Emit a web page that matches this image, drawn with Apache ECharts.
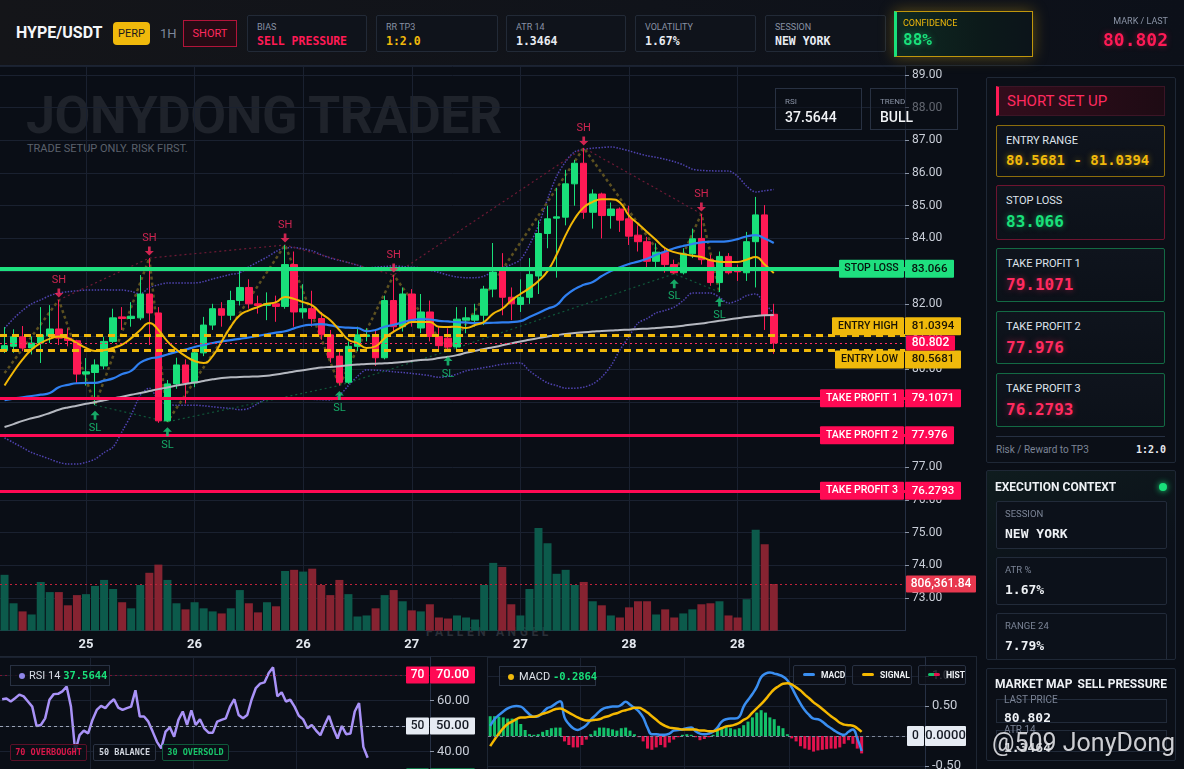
<!DOCTYPE html>
<html>
<head>
<meta charset="utf-8">
<title>HYPE/USDT Short Setup</title>
<script src="https://cdn.jsdelivr.net/npm/echarts@6/dist/echarts.min.js"></script>
<style>
*{margin:0;padding:0;box-sizing:border-box}
html,body{width:1184px;height:769px;overflow:hidden;background:#0a0e16;font-family:Roboto,"Noto Sans",sans-serif;color:#e8ecf2}
.a{position:absolute}
.u{z-index:1}
.o{z-index:3}
#chart{position:absolute;left:0;top:0;width:1184px;height:830px;z-index:2}
.mono{font-family:"DejaVu Sans Mono",monospace;font-weight:bold}
.hb{position:absolute;top:15px;height:37px;background:#0f131b;border:1px solid #222a37;border-radius:2px;z-index:3}
.hb .l{position:absolute;left:9px;top:5px;font-size:9px;line-height:12px;color:#8891a3}
.hb .v{position:absolute;left:9px;top:18px;font-size:11.5px;line-height:14px;white-space:nowrap}
.card{position:absolute;left:996px;width:169px;background:linear-gradient(180deg,#0f141d,#0c1119);border:1px solid #222b3a;border-radius:2px;z-index:3}
.card .l{position:absolute;left:9px;top:8px;font-size:11px;line-height:14px;color:#dfe4ec}
.card .v{position:absolute;left:9px;top:26px;font-size:16px;line-height:20px;white-space:nowrap}
.sub{position:absolute;left:9px;width:171px;height:48px;background:#0c111a;border:1px solid #222b3a;border-radius:2px}
.sub .l{position:absolute;left:8px;top:6px;font-size:9.5px;line-height:12px;color:#7b8496}
.sub .v{position:absolute;left:8px;top:24px;font-size:13px;line-height:16px;color:#eef1f5}
.chip{position:absolute;height:17px;border:1px solid;border-radius:2px;font-family:"DejaVu Sans Mono",monospace;font-weight:bold;font-size:8.5px;line-height:15px;text-align:center;background:rgba(10,14,22,.85);z-index:3;white-space:nowrap}
.lg{position:absolute;top:665px;height:20px;border:1px solid #283142;background:rgba(12,16,24,.8);border-radius:2px;font-size:8.5px;font-weight:bold;line-height:18px;color:#eef1f5;z-index:3;white-space:nowrap}
.lg i{display:inline-block;width:12px;height:3px;border-radius:2px;vertical-align:middle;margin:0 6px 2px 9px}
</style>
</head>
<body>
<!-- under-chart decorations -->
<div class="a u" style="left:26px;top:86px;font-size:52px;line-height:60px;font-weight:bold;color:#1f232b;letter-spacing:-0.5px;white-space:nowrap">JONYDONG TRADER</div>
<div class="a u" style="left:27px;top:142px;font-size:11px;line-height:14px;color:#5b616c">TRADE SETUP ONLY. RISK FIRST.</div>
<div class="a u" style="left:426px;top:625px;font-size:12px;line-height:14px;font-weight:bold;letter-spacing:3.6px;color:#2a2f38">FALLEN ANGEL</div>
<div class="a u" style="left:0;top:656px;width:488px;height:120px;border-top:1px solid #1e2633;border-right:1px solid #1e2633"></div>
<div class="a u" style="left:487px;top:656px;width:490px;height:120px;border-top:1px solid #1e2633;border-right:1px solid #1e2633"></div>

<div id="chart"></div>

<!-- header -->
<div class="a o" style="left:0;top:0;width:1184px;height:66px;background:linear-gradient(90deg,#141519,#10131a 55%,#0c1019);border-bottom:1px solid #1c2433"></div>
<div class="a o" style="left:16px;top:23px;font-size:16px;line-height:20px;font-weight:bold;color:#f4f6f9">HYPE/USDT</div>
<div class="a o" style="left:113px;top:22px;width:37px;height:23px;background:#f0b90b;border-radius:4px;font-size:11px;line-height:23px;text-align:center;color:#1b1b1b">PERP</div>
<div class="a o" style="left:160px;top:24px;font-size:13px;line-height:20px;color:#7d879b">1H</div>
<div class="a o" style="left:183px;top:20px;width:54px;height:27px;border:1px solid #b3143a;background:#250b14;font-size:11px;line-height:25px;text-align:center;color:#ff2a5f">SHORT</div>
<div class="hb" style="left:247px;width:120px"><div class="l">BIAS</div><div class="v mono" style="color:#ff1a55">SELL PRESSURE</div></div>
<div class="hb" style="left:376px;width:122px"><div class="l">RR TP3</div><div class="v mono" style="color:#f0b90b">1:2.0</div></div>
<div class="hb" style="left:506px;width:120px"><div class="l">ATR 14</div><div class="v mono" style="color:#e8ecf2">1.3464</div></div>
<div class="hb" style="left:635px;width:121px"><div class="l">VOLATILITY</div><div class="v mono" style="color:#e8ecf2">1.67%</div></div>
<div class="hb" style="left:765px;width:121px"><div class="l">SESSION</div><div class="v mono" style="color:#e8ecf2">NEW YORK</div></div>
<div class="a o" style="left:894px;top:11px;width:139px;height:46px;border:1px solid #c0960c;box-shadow:0 0 14px rgba(240,185,11,.35);background:linear-gradient(90deg,#0f2a22,#0c1a1a 60%,#0c141a);border-left:3px solid #19e07a"></div>
<div class="a o" style="left:903px;top:17px;font-size:9px;line-height:12px;color:#f0b90b">CONFIDENCE</div>
<div class="a o mono" style="left:903px;top:30px;font-size:16px;line-height:20px;color:#19e07a;text-shadow:0 0 6px rgba(25,224,122,.5)">88%</div>
<div class="a o" style="left:1000px;width:168px;top:15px;font-size:9px;line-height:12px;color:#8b94a6;text-align:right">MARK / LAST</div>
<div class="a o mono" style="left:1000px;width:168px;top:29px;font-size:18px;line-height:22px;color:#ff1a55;text-align:right;text-shadow:0 0 6px rgba(255,26,85,.45)">80.802</div>

<!-- main chart overlay boxes -->
<div class="a o" style="left:775px;top:88px;width:87px;height:42px;border:1px solid #283142;background:rgba(11,15,23,.55)">
  <div class="a" style="left:9px;top:8px;font-size:8px;line-height:10px;color:#8a93a5">RSI</div>
  <div class="a" style="left:9px;top:19px;font-size:14px;line-height:18px;color:#f1f3f6;font-weight:500">37.5644</div>
</div>
<div class="a o" style="left:870px;top:88px;width:88px;height:42px;border:1px solid #283142;background:rgba(11,15,23,.55)">
  <div class="a" style="left:9px;top:8px;font-size:8px;line-height:10px;color:#8a93a5">TREND</div>
  <div class="a" style="left:9px;top:19px;font-size:14px;line-height:18px;color:#f1f3f6;font-weight:500">BULL</div>
</div>

<!-- right panel: setup -->
<div class="a o" style="left:986px;top:77px;width:190px;height:386px;border:1px solid #1f2836;background:#0b0f17;border-radius:2px"></div>
<div class="a o" style="left:996px;top:86px;width:169px;height:30px;background:linear-gradient(90deg,#330d1c,#1e0b14);border:1px solid #3c1526;border-left:3px solid #ff1a55"></div>
<div class="a o" style="left:1007px;top:86px;font-size:15px;line-height:30px;color:#ff2a5f">SHORT SET UP</div>
<div class="card" style="top:125px;height:52px;border-color:#8c6d0c"><div class="l">ENTRY RANGE</div><div class="v mono" style="top:24px;font-size:14px;color:#f0b90b;text-shadow:0 0 6px rgba(240,185,11,.55)">80.5681 - 81.0394</div></div>
<div class="card" style="top:185px;height:55px;border-color:#6e1430"><div class="l">STOP LOSS</div><div class="v mono" style="color:#19e07a;text-shadow:0 0 6px rgba(25,224,122,.5)">83.066</div></div>
<div class="card" style="top:248px;height:54px;border-color:#136a44"><div class="l">TAKE PROFIT 1</div><div class="v mono" style="color:#ff2a5f;text-shadow:0 0 6px rgba(255,42,95,.5)">79.1071</div></div>
<div class="card" style="top:311px;height:53px;border-color:#136a44"><div class="l">TAKE PROFIT 2</div><div class="v mono" style="color:#ff2a5f;text-shadow:0 0 6px rgba(255,42,95,.5)">77.976</div></div>
<div class="card" style="top:373px;height:54px;border-color:#136a44"><div class="l">TAKE PROFIT 3</div><div class="v mono" style="color:#ff2a5f;text-shadow:0 0 6px rgba(255,42,95,.5)">76.2793</div></div>
<div class="a o" style="left:996px;top:436px;width:169px;height:1px;background:#263042"></div>
<div class="a o" style="left:996px;top:444px;font-size:10px;line-height:12px;color:#7b8496">Risk / Reward to TP3</div>
<div class="a o mono" style="left:1100px;width:66px;top:444px;font-size:10px;line-height:12px;color:#e6e9ee;text-align:right">1:2.0</div>

<!-- execution context -->
<div class="a o" style="left:986px;top:470px;width:190px;height:190px;border:1px solid #1f2836;background:linear-gradient(160deg,#0f1c1e 0%,#0b1019 55%);overflow:hidden;border-radius:2px">
  <div class="a" style="left:8px;top:9px;font-size:12px;line-height:14px;font-weight:bold;color:#eef1f5">EXECUTION CONTEXT</div>
  <div class="a" style="left:172px;top:12px;width:8px;height:8px;border-radius:50%;background:#19e07a;box-shadow:0 0 6px #19e07a"></div>
  <div class="sub" style="top:30px"><div class="l">SESSION</div><div class="v mono">NEW YORK</div></div>
  <div class="sub" style="top:86px"><div class="l">ATR %</div><div class="v mono">1.67%</div></div>
  <div class="sub" style="top:142px"><div class="l">RANGE 24</div><div class="v mono">7.79%</div></div>
</div>

<!-- market map -->
<div class="a o" style="left:986px;top:668px;width:190px;height:93px;border:1px solid #1f2836;background:#0b0f17;overflow:hidden;border-radius:2px">
  <div class="a" style="left:8px;top:8px;font-size:12px;line-height:14px;font-weight:bold;color:#eef1f5">MARKET MAP</div>
  <div class="a" style="left:60px;width:120px;top:8px;font-size:12px;line-height:14px;font-weight:bold;color:#eef1f5;text-align:right">SELL PRESSURE</div>
  <div class="a" style="left:9px;top:30px;width:171px;height:24px;border:1px solid #222b3a;background:#0c111a"></div>
  <div class="a" style="left:17px;top:25px;font-size:10px;line-height:12px;color:#7b8496">LAST PRICE</div>
  <div class="a mono" style="left:17px;top:41px;font-size:13px;line-height:15px;color:#eef1f5">80.802</div>
  <div class="a" style="left:9px;top:61px;width:171px;height:22px;border:1px solid #222b3a;background:#0c111a"></div>
  <div class="a" style="left:17px;top:55px;font-size:10px;line-height:12px;color:#7b8496">ATR 14</div>
  <div class="a mono" style="left:17px;top:71px;font-size:13px;line-height:15px;color:#eef1f5">1.3464</div>
</div>

<!-- RSI panel chips -->
<div class="a o" style="left:10px;top:665px;width:100px;height:21px;border:1px solid #283142;background:rgba(12,16,24,.75);font-size:11px;line-height:19px;white-space:nowrap">
  <span style="display:inline-block;width:6px;height:6px;border-radius:50%;background:#8f86e8;margin:0 4px 1px 8px;vertical-align:middle"></span><span style="color:#d8dde6">RSI 14</span> <span class="mono" style="color:#19e07a;font-size:10.5px">37.5644</span>
</div>
<div class="chip" style="left:10px;top:744px;width:77px;border-color:#5a1028;color:#d9184a">70 OVERBOUGHT</div>
<div class="chip" style="left:93px;top:744px;width:63px;border-color:#2a3242;color:#d0d5de">50 BALANCE</div>
<div class="chip" style="left:162px;top:744px;width:67px;border-color:#0f5a3a;color:#19c46a">30 OVERSOLD</div>

<!-- MACD panel chips -->
<div class="a o" style="left:499px;top:666px;width:97px;height:20px;border:1px solid #283142;background:rgba(12,16,24,.75);font-size:11px;line-height:18px;white-space:nowrap">
  <span style="display:inline-block;width:6px;height:6px;border-radius:50%;background:#f0b90b;margin:0 5px 1px 8px;vertical-align:middle"></span><span style="color:#dfe3ea">MACD</span> <span class="mono" style="color:#19e07a;font-size:10.5px">-0.2864</span>
</div>
<div class="lg" style="left:793px;width:53px"><i style="background:#3a8ef0"></i>MACD</div>
<div class="lg" style="left:852px;width:60px"><i style="background:#f5b800"></i>SIGNAL</div>
<div class="lg" style="left:918px;width:48px"><i style="background:linear-gradient(90deg,#13c26a 50%,#e3124e 50%)"></i>HIST</div>

<!-- platform watermark -->
<div class="a o" style="left:992px;top:728px;font-size:25px;line-height:30px;color:rgba(238,240,244,.85);text-shadow:0 0 3px rgba(0,0,0,.6);white-space:nowrap">@509 JonyDong</div>

<script>
// ---------------- DATA ----------------
const categories = Array.from({length: 100}, (_, i) => 'h' + i); // 100 hourly slots, 86 with data
const dayTickIndex = [9, 21, 33, 45, 57, 69, 81];
const dayTickLabel = ['25', '26', '26', '27', '27', '28', '28'];
const panelDayIndex = [21, 45, 69];

// [open, close, low, high]
const ohlc = [
[80.57,80.72,80.50,81.29],[80.70,80.99,80.50,81.22],[80.99,80.65,80.55,81.32],[80.65,80.80,80.45,81.00],[80.80,81.05,80.19,81.90],
[81.02,81.23,80.80,81.96],[81.23,80.95,80.74,82.12],[80.95,80.88,80.70,81.25],[80.87,79.85,79.58,80.90],[79.85,79.92,79.50,80.34],
[79.90,80.13,78.90,80.30],[80.10,80.85,80.00,80.99],[80.85,81.57,80.80,81.85],[81.60,81.55,81.20,81.90],[81.55,81.62,81.30,82.05],
[81.57,82.30,81.50,82.88],[82.30,81.72,80.74,83.40],[81.72,78.42,78.36,81.90],[78.42,79.55,78.39,79.67],[79.55,80.13,79.40,80.35],
[80.13,79.58,78.95,80.30],[79.58,80.50,79.45,80.60],[80.50,81.35,80.40,81.60],[81.35,81.85,81.20,82.00],[81.85,81.65,81.30,82.05],
[81.65,82.10,81.50,82.40],[82.10,82.50,81.95,83.10],[82.50,82.00,81.85,82.75],[82.00,81.95,81.70,82.25],[81.95,82.00,81.50,82.35],
[82.00,81.92,81.45,82.25],[81.92,83.20,81.85,83.80],[83.20,81.75,81.30,83.60],[81.75,81.85,81.55,82.60],[81.85,81.55,81.30,82.40],
[81.55,81.05,80.90,81.75],[81.05,80.35,80.20,81.20],[80.40,79.60,79.50,80.60],[79.60,80.70,79.55,80.85],[80.70,81.05,80.55,81.30],
[81.00,81.05,80.85,81.25],[81.05,80.35,80.10,81.20],[80.35,82.10,80.30,82.25],[82.10,81.30,81.15,82.88],[81.30,82.30,81.15,82.50],
[82.30,81.50,81.30,82.45],[81.26,81.75,81.10,82.30],[81.75,81.00,80.85,82.10],[81.00,80.72,80.60,81.30],[80.95,80.68,80.56,81.25],
[80.68,81.53,80.60,81.90],[81.50,81.57,81.10,81.90],[81.50,81.65,81.30,82.00],[81.65,82.45,81.35,82.55],[82.45,82.97,82.20,83.86],
[83.06,82.20,81.65,83.55],[82.20,82.00,81.50,82.50],[81.98,82.20,81.75,82.75],[82.20,82.90,82.00,83.40],[82.85,84.15,82.30,84.55],
[84.15,84.60,83.70,85.00],[84.62,84.66,82.80,85.55],[84.65,85.67,84.40,86.10],[85.67,86.30,85.00,86.40],[86.30,84.80,84.60,86.77],
[84.80,85.36,84.30,85.50],[85.36,84.70,84.00,85.40],[84.70,84.90,84.30,85.10],[84.90,84.56,84.20,84.95],[84.60,84.07,83.80,85.00],
[84.10,83.90,83.60,84.40],[83.90,83.30,83.10,84.05],[83.30,83.58,83.10,83.85],[83.58,83.20,82.95,83.70],[83.20,82.95,82.92,83.35],
[82.95,83.53,82.90,83.70],[83.53,83.99,83.40,84.30],[84.00,83.35,83.20,84.75],[83.35,82.65,82.55,83.50],[82.65,83.45,82.36,83.60],
[83.45,82.95,82.90,83.55],[83.00,82.98,82.70,83.20],[82.95,83.90,82.70,84.20],[83.90,84.72,82.50,85.27],[84.72,81.66,81.20,85.02],
[81.68,80.80,80.47,82.00]
];

const volume = [
964000,473000,333000,280000,841000,666000,666000,438000,614000,631000,
771000,876000,719000,491000,386000,789000,999000,1140000,876000,473000,
368000,491000,386000,333000,298000,386000,701000,473000,316000,491000,
421000,1030000,1050000,1020000,1070000,789000,614000,876000,631000,245000,
263000,386000,614000,701000,508000,351000,333000,456000,228000,210000,
263000,228000,193000,789000,1170000,1100000,456000,263000,719000,1770000,
1510000,982000,1050000,789000,841000,508000,438000,263000,228000,403000,
508000,508000,280000,368000,228000,298000,368000,456000,473000,508000,
263000,228000,543000,1740000,1490000,806000];
const volumeAvg = 806361.84;

const maFast = [
79.50,79.92,80.30,80.60,80.80,80.93,81.00,80.95,80.80,80.65,
80.56,80.58,80.65,80.75,80.95,81.20,81.41,81.20,80.85,80.60,
80.40,80.25,80.19,80.40,80.85,81.30,81.65,81.80,81.90,82.00,
82.05,82.21,82.15,82.05,81.95,81.70,81.50,81.20,80.90,80.80,
80.65,80.70,80.95,81.15,81.30,81.44,81.44,81.44,81.30,81.29,
81.30,81.26,81.35,81.45,81.70,81.85,82.10,82.30,82.48,82.70,
83.00,83.50,84.10,84.60,84.95,85.12,85.20,85.20,85.10,84.70,
84.45,84.20,83.95,83.70,83.58,83.52,83.47,83.43,83.33,83.29,
83.28,83.28,83.35,83.43,83.20,82.94];
const maMid = [
79.05,79.10,79.14,79.18,79.22,79.27,79.45,79.52,79.57,79.58,
79.58,79.65,79.72,79.85,79.95,80.20,80.32,80.37,80.45,80.53,
80.60,80.68,80.74,80.80,80.85,80.89,80.93,80.97,81.02,81.07,
81.12,81.16,81.25,81.33,81.36,81.38,81.34,81.29,81.27,81.26,
81.16,81.20,81.30,81.36,81.43,81.50,81.53,81.52,81.48,81.46,
81.44,81.43,81.41,81.41,81.42,81.43,81.44,81.47,81.60,81.72,
81.85,81.96,82.25,82.45,82.58,82.67,82.85,83.00,83.12,83.22,
83.29,83.38,83.50,83.60,83.70,83.77,83.83,83.88,83.90,83.90,
83.92,83.98,84.06,84.10,84.00,83.86];
const maSlow = [
78.23,78.32,78.42,78.50,78.57,78.66,78.76,78.83,78.88,78.94,
78.99,79.05,79.11,79.16,79.22,79.27,79.33,79.39,79.44,79.50,
79.55,79.59,79.64,79.69,79.73,79.75,79.76,79.77,79.78,79.80,
79.84,79.88,79.93,79.97,80.01,80.05,80.07,80.09,80.12,80.14,
80.16,80.17,80.18,80.20,80.22,80.25,80.28,80.30,80.34,80.38,
80.43,80.50,80.56,80.62,80.67,80.73,80.79,80.85,80.90,80.95,
81.00,81.04,81.08,81.11,81.13,81.15,81.17,81.18,81.20,81.21,
81.23,81.24,81.26,81.28,81.30,81.33,81.37,81.40,81.44,81.48,
81.52,81.56,81.60,81.63,81.65,81.66];
const bandUpper = [
81.25,81.55,81.80,82.00,82.12,82.25,82.33,82.37,82.40,82.42,
82.42,82.43,82.42,82.42,82.38,82.30,82.50,82.58,82.64,82.64,
82.64,82.64,82.68,82.76,82.83,82.90,82.95,83.13,83.28,83.43,
83.60,83.71,83.72,83.68,83.62,83.50,83.40,83.33,83.26,83.18,
83.10,83.12,83.14,83.16,83.14,83.12,83.10,83.03,82.96,82.88,
82.82,82.80,82.80,82.85,83.00,83.10,83.20,83.35,83.80,84.40,
85.20,85.90,86.35,86.65,86.72,86.76,86.78,86.80,86.75,86.68,
86.60,86.53,86.48,86.42,86.35,86.25,86.12,86.08,86.07,86.06,
86.06,85.90,85.60,85.42,85.46,85.50];
const bandLower = [
77.90,77.75,77.60,77.45,77.35,77.25,77.15,77.10,77.10,77.15,
77.25,77.45,77.62,78.10,78.60,79.20,79.42,79.06,78.92,78.90,
78.90,78.90,78.88,78.85,78.82,78.80,78.76,78.80,78.95,79.10,
79.12,79.12,79.12,79.10,79.08,79.07,79.06,79.20,79.50,79.78,
79.98,79.97,79.95,79.92,79.90,79.87,79.84,79.80,79.75,79.78,
79.85,79.95,80.00,80.05,80.10,80.15,80.18,80.19,79.95,79.75,
79.58,79.50,79.42,79.42,79.45,79.55,79.76,80.10,80.59,81.00,
81.41,81.55,81.72,81.80,81.90,82.10,82.33,82.33,82.33,82.20,
82.02,82.10,82.25,82.30,82.00,81.72];

const swingHighIdx = [6, 16, 31, 43, 64, 77];
const swingHighVal = [82.12, 83.40, 83.80, 82.88, 86.77, 84.75];
const swingLowIdx = [10, 18, 37, 49, 74, 79];
const swingLowVal = [78.90, 78.39, 79.50, 80.56, 82.92, 82.36];
const zigzagIdx = [0, 6, 10, 16, 18, 31, 37, 43, 49, 64, 74, 77, 79];
const zigzagVal = [79.88, 82.12, 78.90, 83.40, 78.39, 83.80, 79.50, 82.88, 80.56, 86.77, 82.92, 84.75, 82.36];

const levelNames = ['STOP LOSS', 'ENTRY HIGH', 'ENTRY LOW', 'TAKE PROFIT 1', 'TAKE PROFIT 2', 'TAKE PROFIT 3'];
const levelValues = [83.066, 81.0394, 80.5681, 79.1071, 77.976, 76.2793];
const lastPrice = 80.802;

const rsi = [
60.5,60.8,59.6,60.9,62.3,61.6,59.6,57.6,50.0,50.4,
53.0,60.3,62.5,62.6,63.6,65.5,57.6,39.9,46.4,48.2,
47.1,52.4,56.3,57.9,57.0,59.0,60.5,57.2,56.3,57.0,
57.6,64.0,53.7,53.7,51.7,47.8,43.8,41.2,47.8,49.5,
45.8,52.4,55.7,50.4,56.1,50.4,52.6,49.1,47.4,47.4,
51.7,52.4,53.0,57.6,60.5,54.3,53.0,54.3,60.3,64.9,
66.6,67.1,70.8,73.0,61.6,63.2,59.6,60.3,57.6,54.0,
52.6,49.1,50.4,48.2,46.4,50.4,54.0,49.1,45.1,50.0,
46.8,47.1,55.7,59.0,41.8,37.56];

const macd = [
0.17,0.28,0.35,0.41,0.46,0.49,0.50,0.49,0.43,0.36,
0.32,0.33,0.39,0.46,0.49,0.54,0.58,0.31,0.20,0.13,
0.10,0.13,0.18,0.27,0.34,0.41,0.46,0.48,0.49,0.49,
0.52,0.57,0.52,0.47,0.41,0.31,0.14,0.03,0.03,0.02,
0.02,0.04,0.09,0.10,0.11,0.13,0.14,0.08,0.04,0.03,
0.04,0.07,0.14,0.24,0.28,0.29,0.29,0.32,0.49,0.60,
0.70,0.82,0.98,1.04,1.06,1.04,1.02,0.99,0.93,0.81,
0.67,0.54,0.43,0.35,0.29,0.28,0.24,0.18,0.13,0.08,
0.04,0.02,0.07,0.11,-0.04,-0.25];
const signal = [
-0.17,-0.06,0.04,0.13,0.20,0.24,0.28,0.31,0.31,0.32,
0.32,0.34,0.37,0.39,0.42,0.45,0.46,0.43,0.39,0.35,
0.31,0.28,0.26,0.26,0.27,0.28,0.31,0.33,0.36,0.38,
0.41,0.43,0.45,0.47,0.47,0.44,0.39,0.33,0.27,0.21,
0.17,0.14,0.13,0.12,0.11,0.11,0.11,0.11,0.09,0.09,
0.08,0.08,0.10,0.13,0.16,0.17,0.19,0.22,0.27,0.31,
0.39,0.46,0.53,0.61,0.70,0.78,0.83,0.87,0.88,0.86,
0.81,0.76,0.69,0.63,0.56,0.51,0.45,0.39,0.33,0.28,
0.22,0.19,0.18,0.17,0.13,0.07];
const hist = [
0.33,0.33,0.32,0.31,0.29,0.29,0.28,0.20,0.10,0.03,
0.02,0.03,0.07,0.10,0.13,0.14,0.14,-0.09,-0.15,-0.19,
-0.19,-0.15,-0.06,0.03,0.09,0.14,0.14,0.13,0.11,0.09,
0.13,0.14,0.09,0.03,-0.02,-0.09,-0.21,-0.23,-0.19,-0.15,
-0.19,-0.11,-0.06,-0.02,0.02,0.03,0.02,-0.02,-0.07,-0.05,
-0.02,0.02,0.09,0.14,0.17,0.13,0.11,0.13,0.18,0.24,
0.31,0.39,0.43,0.39,0.31,0.28,0.17,0.13,0.03,-0.04,
-0.09,-0.17,-0.21,-0.23,-0.26,-0.24,-0.23,-0.22,-0.21,-0.21,
-0.19,-0.13,-0.07,-0.13,-0.21,-0.29];

// ---------------- STYLE HELPERS ----------------
const UP = '#19e07a', DOWN = '#ff1a55';
const FONT = 'Roboto';
const gridLine = '#1a2130', axisCol = '#263044', labelCol = '#c9ced8';

function tagLabel(name, valText, nameW, valW, h, bg, fg, fs, shift) {
  let fmt = (name != null ? '{n|' + name + '}{g| }' : '') + '{v|' + valText + '}';
  if (shift < 0) fmt = fmt + '\n{s| }';
  if (shift > 0) fmt = '{s| }\n' + fmt;
  const box = {backgroundColor: bg, color: fg, height: h, lineHeight: h, align: 'center',
               fontSize: fs, fontFamily: FONT, fontWeight: 500, borderRadius: 1};
  return {
    show: true, position: 'end', distance: name != null ? -(nameW + 1) : 1,
    formatter: fmt,
    rich: {
      n: Object.assign({}, box, {width: nameW}),
      g: {width: 1, height: h, lineHeight: h},
      v: Object.assign({}, box, {width: valW, fontSize: fs + 1}),
      s: {width: 1, height: h, lineHeight: h}
    }
  };
}

const levelStyles = [
  {color: '#1ee07f', width: 4, type: 'solid', bg: '#1ee07f', fg: '#06150d', nw: 65, vw: 49, shift: 0},
  {color: '#f0b90b', width: 3, type: [7, 5], bg: '#f0b90b', fg: '#1a1405', nw: 72, vw: 56, shift: -1},
  {color: '#f0b90b', width: 3, type: [7, 5], bg: '#f0b90b', fg: '#1a1405', nw: 69, vw: 56, shift: 1},
  {color: '#ff0a54', width: 3, type: 'solid', bg: '#ff0a54', fg: '#ffffff', nw: 84, vw: 56, shift: 0},
  {color: '#ff0a54', width: 3, type: 'solid', bg: '#ff0a54', fg: '#ffffff', nw: 84, vw: 49, shift: 0},
  {color: '#ff0a54', width: 3, type: 'solid', bg: '#ff0a54', fg: '#ffffff', nw: 84, vw: 56, shift: 0}
];
const levelLines = levelValues.map((v, k) => {
  const s = levelStyles[k];
  return {yAxis: v, lineStyle: {color: s.color, width: s.width, type: s.type},
          label: tagLabel(levelNames[k], String(v), s.nw, s.vw, 18, s.bg, s.fg, 10.5, s.shift)};
});
levelLines.push({yAxis: lastPrice, lineStyle: {color: '#ff2a5f', width: 1, type: [2, 3]},
                 label: tagLabel(null, String(lastPrice), 0, 49, 15, '#ff0a54', '#ffffff', 11, 0)});

const isDayTick = (i) => dayTickIndex.indexOf(i) >= 0;
const isPanelDay = (i) => panelDayIndex.indexOf(i) >= 0;
const pairs = (xs, ys) => xs.map((x, k) => [x, ys[k]]);

const downArrow = 'path://M3.5,0 L6.5,0 L6.5,5 L10,5 L5,10 L0,5 L3.5,5 Z';
const upArrow = 'path://M5,0 L10,5 L6.5,5 L6.5,10 L3.5,10 L3.5,5 L0,5 Z';

const hiddenCat = (gi) => ({type: 'category', gridIndex: gi, data: categories, boundaryGap: true,
  axisLine: {show: false}, axisTick: {show: false}, axisLabel: {show: false}, splitLine: {show: false}});

const rsiTag = [
  {v: 70, line: {color: '#7a1533', type: [2, 3], width: 1}, bg: '#ff0a54', fg: '#ffffff'},
  {v: 50, line: {color: '#9aa3b5', type: [3, 3], width: 1}, bg: '#e6ebf3', fg: '#151a24'},
  {v: 30, line: {color: '#0e6b40', type: [3, 3], width: 1}, bg: '#19e07a', fg: '#07160e'}
];

const option = {
  animation: false,
  backgroundColor: 'transparent',
  textStyle: {fontFamily: FONT},
  grid: [
    {left: 0, top: 66, width: 905, height: 564.7},
    {left: 0, top: 480, width: 905, height: 150.7},
    {left: 0, top: 657, width: 430, height: 120},
    {left: 488, top: 657, width: 437, height: 139}
  ],
  xAxis: [
    {type: 'category', gridIndex: 0, data: categories, boundaryGap: true,
     axisLine: {show: true, lineStyle: {color: axisCol}}, axisTick: {show: false},
     axisLabel: {interval: (i) => isDayTick(i), formatter: (v, i) => dayTickLabel[dayTickIndex.indexOf(i)] || '',
                 color: '#e3e7ee', fontSize: 13, fontWeight: 'bold', margin: 8},
     splitLine: {show: true, interval: (i) => isDayTick(i), alignWithLabel: true, lineStyle: {color: gridLine}}},
    hiddenCat(1),
    Object.assign(hiddenCat(2), {splitLine: {show: true, interval: (i) => isPanelDay(i), lineStyle: {color: gridLine}}}),
    Object.assign(hiddenCat(3), {splitLine: {show: true, interval: (i) => isPanelDay(i), lineStyle: {color: gridLine}}})
  ],
  yAxis: [
    {type: 'value', gridIndex: 0, position: 'right', min: 72, max: 89.275, interval: 1, scale: true,
     axisLine: {show: true, lineStyle: {color: axisCol}},
     axisTick: {show: true, length: 4, lineStyle: {color: '#8c96a8'}},
     axisLabel: {color: labelCol, fontSize: 12, margin: 7, formatter: (v) => v.toFixed(2), showMinLabel: false, showMaxLabel: false},
     splitLine: {show: true, lineStyle: {color: gridLine}}},
    {type: 'value', gridIndex: 1, min: 0, max: 2600000, show: false, splitLine: {show: false}},
    {type: 'value', gridIndex: 2, position: 'right', min: 30, max: 77.06, interval: 10,
     axisLine: {show: true, lineStyle: {color: axisCol}},
     axisTick: {show: true, length: 4, lineStyle: {color: '#8c96a8'}},
     axisLabel: {color: labelCol, fontSize: 13, margin: 7, formatter: (v) => v.toFixed(2), showMinLabel: false, showMaxLabel: false},
     splitLine: {show: true, lineStyle: {color: gridLine}}},
    {type: 'value', gridIndex: 3, position: 'right', min: -1, max: 1.3167, interval: 0.5,
     axisLine: {show: true, lineStyle: {color: axisCol}},
     axisTick: {show: true, length: 4, lineStyle: {color: '#8c96a8'}},
     axisLabel: {color: labelCol, fontSize: 13, margin: 7, formatter: (v) => v.toFixed(2), showMinLabel: false, showMaxLabel: false},
     splitLine: {show: true, lineStyle: {color: gridLine}}}
  ],
  series: [
    {name: 'Volume', type: 'bar', xAxisIndex: 1, yAxisIndex: 1, z: 1, barWidth: 8, silent: true,
     data: volume.map((v, i) => ({value: v, itemStyle: {color: ohlc[i][1] >= ohlc[i][0] ? '#0c5a4b' : '#862331'}})),
     markLine: {silent: true, symbol: ['none', 'none'], animation: false,
       data: [{yAxis: volumeAvg, lineStyle: {color: '#c0223a', width: 1, type: [2, 3]},
               label: tagLabel(null, volumeAvg.toLocaleString('en-US', {minimumFractionDigits: 2, maximumFractionDigits: 2}), 0, 70, 17, '#e8384f', '#ffffff', 11, 0)}]}},
    {name: 'Band upper', type: 'line', data: bandUpper, showSymbol: false, symbol: 'none', smooth: 0.3, z: 2, silent: true,
     lineStyle: {color: '#4f43b0', width: 1.5, type: 'dotted'}},
    {name: 'Band lower', type: 'line', data: bandLower, showSymbol: false, symbol: 'none', smooth: 0.3, z: 2, silent: true,
     lineStyle: {color: '#4f43b0', width: 1.5, type: 'dotted'}},
    {name: 'Swing high line', type: 'line', data: pairs(swingHighIdx, swingHighVal), showSymbol: false, symbol: 'none', z: 2, silent: true,
     lineStyle: {color: '#6e1a35', width: 1.2, type: [2, 3]}},
    {name: 'Swing low line', type: 'line', data: pairs(swingLowIdx, swingLowVal), showSymbol: false, symbol: 'none', z: 2, silent: true,
     lineStyle: {color: '#10573a', width: 1.2, type: [2, 3]}},
    {name: 'Zigzag', type: 'line', data: pairs(zigzagIdx, zigzagVal), showSymbol: false, symbol: 'none', z: 2, silent: true,
     lineStyle: {color: '#5c5020', width: 2.5, type: [3, 3]}},
    {name: 'Price', type: 'candlestick', data: ohlc, z: 3, barWidth: 7, silent: true,
     itemStyle: {color: UP, color0: DOWN, borderColor: UP, borderColor0: DOWN, borderWidth: 1}},
    {name: 'MA slow', type: 'line', data: maSlow, showSymbol: false, symbol: 'none', smooth: true, z: 4, silent: true,
     lineStyle: {color: '#b5b8c0', width: 2}},
    {name: 'MA mid', type: 'line', data: maMid, showSymbol: false, symbol: 'none', smooth: true, z: 4, silent: true,
     lineStyle: {color: '#2f7ff0', width: 2.2}},
    {name: 'MA fast', type: 'line', data: maFast, showSymbol: false, symbol: 'none', smooth: true, z: 4, silent: true,
     lineStyle: {color: '#f2b705', width: 2}},
    {name: 'Levels', type: 'line', data: [], z: 5, silent: true,
     markLine: {silent: true, symbol: ['none', 'none'], animation: false, data: levelLines}},
    {name: 'SH', type: 'scatter', data: pairs(swingHighIdx, swingHighVal), z: 6, silent: true,
     symbol: downArrow, symbolSize: [9, 9], symbolOffset: [0, -7], itemStyle: {color: '#ff2a5f'},
     label: {show: true, position: 'top', distance: 3, formatter: 'SH', color: '#ff2a5f', fontSize: 11, fontFamily: FONT}},
    {name: 'SL', type: 'scatter', data: pairs(swingLowIdx, swingLowVal), z: 6, silent: true,
     symbol: upArrow, symbolSize: [9, 9], symbolOffset: [0, 10], itemStyle: {color: '#19d07a'},
     label: {show: true, position: 'bottom', distance: 3, formatter: 'SL', color: '#19d07a', fontSize: 11, fontFamily: FONT}},
    {name: 'RSI', type: 'line', xAxisIndex: 2, yAxisIndex: 2, data: rsi, showSymbol: false, symbol: 'none', z: 3, silent: true,
     lineStyle: {color: '#a992f7', width: 2.5},
     markLine: {silent: true, symbol: ['none', 'none'], animation: false,
       data: rsiTag.map(t => ({yAxis: t.v, lineStyle: t.line,
         label: tagLabel(String(t.v), t.v.toFixed(2), 23, 45, 17, t.bg, t.fg, 12, 0)}))}},
    {name: 'HIST', type: 'bar', xAxisIndex: 3, yAxisIndex: 3, barWidth: 3, z: 2, silent: true,
     data: hist.map(v => ({value: v, itemStyle: {color: v >= 0 ? '#13c26a' : '#e3124e'}})),
     markLine: {silent: true, symbol: ['none', 'none'], animation: false,
       data: [{yAxis: 0, lineStyle: {color: '#7e8799', type: [3, 3], width: 1},
               label: tagLabel('0', (0).toFixed(4), 17, 41, 20, '#e6ebf3', '#151a24', 12, 0)}]}},
    {name: 'MACD', type: 'line', xAxisIndex: 3, yAxisIndex: 3, data: macd, showSymbol: false, symbol: 'none', smooth: true, z: 3, silent: true,
     lineStyle: {color: '#3a8ef0', width: 2.5}},
    {name: 'SIGNAL', type: 'line', xAxisIndex: 3, yAxisIndex: 3, data: signal, showSymbol: false, symbol: 'none', smooth: true, z: 3, silent: true,
     lineStyle: {color: '#f5b800', width: 2.5}}
  ]
};

const chart = echarts.init(document.getElementById('chart'), null, {renderer: 'canvas', width: 1184, height: 830});
chart.setOption(option);
</script>
</body>
</html>
